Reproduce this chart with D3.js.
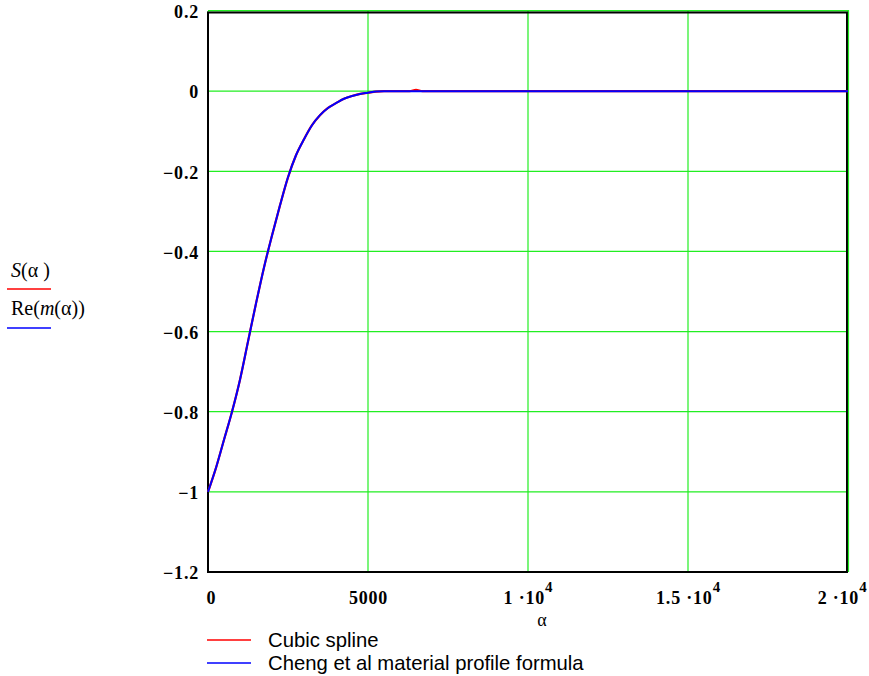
<!DOCTYPE html>
<html><head><meta charset="utf-8">
<script src="https://cdn.jsdelivr.net/npm/d3@7/dist/d3.min.js"></script>
<style>body{margin:0;background:#fff}svg{display:block}</style>
</head><body>
<svg id="c" width="869" height="676"></svg>
<script>
// ---- data ----
const alphaValues = [0,250,500,750,1000,1250,1500,1750,2000,2250,2500,2750,3000,3250,3500,3750,4000,4250,4500,4750,5000,5250,5500,6000,6300,6500,6700,7000,10000,15000,20000];
const chengValues = [-1,-0.94,-0.87,-0.80,-0.72,-0.625,-0.53,-0.44,-0.36,-0.285,-0.215,-0.16,-0.12,-0.085,-0.06,-0.042,-0.03,-0.019,-0.012,-0.007,-0.004,-0.001,0,0,0,0,0,0,0,0,0];
const splineValues = [-1,-0.94,-0.87,-0.80,-0.72,-0.625,-0.53,-0.44,-0.36,-0.285,-0.215,-0.16,-0.12,-0.085,-0.06,-0.042,-0.03,-0.019,-0.012,-0.007,-0.004,-0.001,0,0,0,0.003,0,0,0,0,0];
const xTicks = [0,5000,10000,15000,20000];
const xTickLabels = [["0",null],["5000",null],["1 ·10","4"],["1.5 ·10","4"],["2 ·10","4"]];
const yTicks = [0.2,0,-0.2,-0.4,-0.6,-0.8,-1,-1.2];
const yTickLabels = ["0.2","0","−0.2","−0.4","−0.6","−0.8","−1","−1.2"];
const legendItems = [{name:"Cubic spline",color:"#ff0000"},{name:"Cheng et al material profile formula",color:"#0000ff"}];

// ---- layout ----
const L=208,R=848,T=11,B=572;
const serif="'Liberation Serif','Times New Roman',serif";
const svg=d3.select("#c");
const x=d3.scaleLinear().domain([0,20000]).range([L,R]);
const y=d3.scaleLinear().domain([-1.2,0.2]).range([B,T]);
const grid="#22ee22";

// grid
svg.append("g").selectAll("line").data(xTicks).join("line")
  .attr("x1",d=>x(d)).attr("x2",d=>x(d)).attr("y1",T).attr("y2",B)
  .attr("stroke",grid).attr("stroke-width",1.2);
svg.append("g").selectAll("line").data(yTicks).join("line")
  .attr("x1",L).attr("x2",R).attr("y1",d=>y(d)).attr("y2",d=>y(d))
  .attr("stroke",grid).attr("stroke-width",1.2);

// frame
svg.append("path").attr("d",`M${L},${T+1.5}H${R-1}V${B}H${L}Z`)
  .attr("fill","none").attr("stroke","#000").attr("stroke-width",2);
svg.append("line").attr("x1",L).attr("x2",R+1).attr("y1",T-0.5).attr("y2",T-0.5).attr("stroke",grid).attr("stroke-width",1.2);
svg.append("line").attr("x1",R+0.5).attr("x2",R+0.5).attr("y1",T-1).attr("y2",B).attr("stroke",grid).attr("stroke-width",1.2);

// y axis
const ya=svg.append("g").attr("transform",`translate(${L},0)`)
  .call(d3.axisLeft(y).tickValues(yTicks).tickSize(0).tickPadding(9)
  .tickFormat((d,i)=>yTickLabels[i]));
ya.select(".domain").remove();
ya.selectAll("text").attr("font-family",serif).attr("letter-spacing","0.8px")
  .attr("font-weight","bold").attr("font-size",18).attr("fill","#000").attr("dy","0.38em");

// x axis
const xa=svg.append("g").attr("transform",`translate(0,${B})`)
  .call(d3.axisBottom(x).tickValues(xTicks).tickSize(0).tickFormat(""));
xa.select(".domain").remove();
xa.selectAll(".tick").each(function(d,i){
  const lab=xTickLabels[i];
  const last=i===xTicks.length-1;
  const t=d3.select(this).append("text").attr("y",32).attr("fill","#000")
    .attr("font-family",serif).attr("font-weight","bold").attr("font-size",18).attr("letter-spacing","0.8px")
    .attr("text-anchor", last ? "end":"middle")
    .attr("x", last ? 19 : (i===0?3:0));
  t.append("tspan").text(lab[0]);
  if(lab[1]) t.append("tspan").attr("dy",-12).attr("font-size",15).text(lab[1]);
});
svg.append("text").attr("x",542).attr("y",626).attr("text-anchor","middle")
  .attr("font-family",serif).attr("font-size",18).text("α");

// lines
const line=d3.line().curve(d3.curveMonotoneX);
svg.append("path").attr("d",line(alphaValues.map((a,i)=>[x(a),y(splineValues[i])])))
  .attr("fill","none").attr("stroke","#ff0000").attr("stroke-width",2.2);
svg.append("path").attr("d",line(alphaValues.map((a,i)=>[x(a),y(chengValues[i])])))
  .attr("fill","none").attr("stroke","#0000ff").attr("stroke-width",2);

// left legend (y label)
const l1=svg.append("text").attr("x",11).attr("y",277).attr("font-family",serif).attr("font-size",20);
l1.append("tspan").attr("font-style","italic").text("S");
l1.append("tspan").text("(α )");
svg.append("line").attr("x1",7).attr("x2",51).attr("y1",289).attr("y2",289).attr("stroke","#ff0000").attr("stroke-width",1.5);
const l2=svg.append("text").attr("x",11).attr("y",315).attr("font-family",serif).attr("font-size",20);
l2.append("tspan").text("Re(");
l2.append("tspan").attr("font-style","italic").text("m");
l2.append("tspan").text("(α))");
svg.append("line").attr("x1",7).attr("x2",51).attr("y1",328).attr("y2",328).attr("stroke","#0000ff").attr("stroke-width",1.5);

// bottom legend
const lg=svg.append("g").selectAll("g").data(legendItems).join("g")
  .attr("transform",(d,i)=>`translate(0,${640+i*23})`);
lg.append("line").attr("x1",207).attr("x2",251).attr("stroke",d=>d.color).attr("stroke-width",1.5);
lg.append("text").attr("x",268).attr("y",7).attr("font-family","'Liberation Sans',Arial,sans-serif")
  .attr("font-size",20.3).text(d=>d.name);
</script>
</body></html>
